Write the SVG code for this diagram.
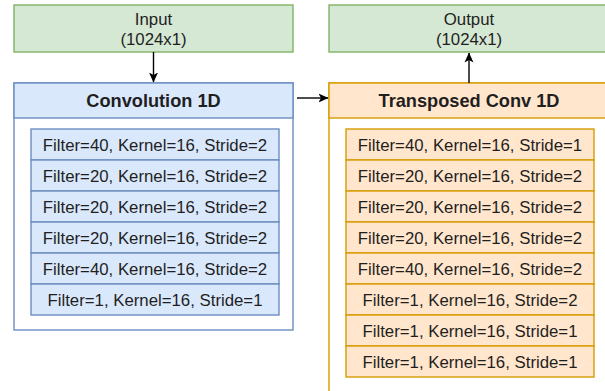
<svg xmlns="http://www.w3.org/2000/svg" width="605" height="391" viewBox="0 0 605 391">
<defs>
<style>
text{font-family:"Liberation Sans",Arial,sans-serif;fill:#1f1f1f;text-anchor:middle}
.t{font-size:16.8px}
.h{font-size:18.2px;font-weight:bold}
.io{fill:#d5e8d4;stroke:#82b366;stroke-width:1.4}
.bh{fill:#dae8fc;stroke:#6c8ebf;stroke-width:1.4}
.bb{fill:#ffffff;stroke:#6c8ebf;stroke-width:1.4}
.oh{fill:#ffe6cc;stroke:#d79b00;stroke-width:1.4}
.ob{fill:#ffffff;stroke:#d79b00;stroke-width:1.4}
.c{stroke:#000;stroke-width:1.4;fill:none}
</style>
<marker id="a" viewBox="0 0 10 10" refX="9.5" refY="5" markerWidth="10" markerHeight="10" markerUnits="userSpaceOnUse" orient="auto">
<path d="M0,0.5 L10,5 L0,9.5 L2.5,5 Z" fill="#000"/>
</marker>
</defs>
<g id="input">
<rect class="io" x="14" y="5" width="279" height="47"/>
<text class="t" x="153.5" y="24.5">Input</text>
<text class="t" x="153.5" y="44.5">(1024x1)</text>
</g>
<g id="output">
<rect class="io" x="329" y="5" width="281" height="47"/>
<text class="t" x="469" y="24.5">Output</text>
<text class="t" x="469" y="44.5">(1024x1)</text>
</g>
<g id="conv1d">
<rect class="bb" x="14" y="83" width="279" height="247"/>
<rect class="bh" x="14" y="83" width="279" height="35"/>
<text class="h" x="153.5" y="107">Convolution 1D</text>
<g id="conv-layers">
<rect class="bh" x="31" y="129" width="248" height="31"/>
<text class="t" x="155" y="150.5">Filter=40, Kernel=16, Stride=2</text>
<rect class="bh" x="31" y="160" width="248" height="31"/>
<text class="t" x="155" y="181.5">Filter=20, Kernel=16, Stride=2</text>
<rect class="bh" x="31" y="191" width="248" height="31"/>
<text class="t" x="155" y="212.5">Filter=20, Kernel=16, Stride=2</text>
<rect class="bh" x="31" y="222" width="248" height="31"/>
<text class="t" x="155" y="243.5">Filter=20, Kernel=16, Stride=2</text>
<rect class="bh" x="31" y="253" width="248" height="31"/>
<text class="t" x="155" y="274.5">Filter=40, Kernel=16, Stride=2</text>
<rect class="bh" x="31" y="284" width="248" height="31"/>
<text class="t" x="155" y="305.5">Filter=1, Kernel=16, Stride=1</text>
</g>
</g>
<g id="tconv1d">
<rect class="ob" x="329" y="83" width="281" height="320"/>
<rect class="oh" x="329" y="83" width="281" height="35"/>
<text class="h" x="469" y="107">Transposed Conv 1D</text>
<g id="tconv-layers">
<rect class="oh" x="346" y="129" width="248" height="31"/>
<text class="t" x="470" y="150.5">Filter=40, Kernel=16, Stride=1</text>
<rect class="oh" x="346" y="160" width="248" height="31"/>
<text class="t" x="470" y="181.5">Filter=20, Kernel=16, Stride=2</text>
<rect class="oh" x="346" y="191" width="248" height="31"/>
<text class="t" x="470" y="212.5">Filter=20, Kernel=16, Stride=2</text>
<rect class="oh" x="346" y="222" width="248" height="31"/>
<text class="t" x="470" y="243.5">Filter=20, Kernel=16, Stride=2</text>
<rect class="oh" x="346" y="253" width="248" height="31"/>
<text class="t" x="470" y="274.5">Filter=40, Kernel=16, Stride=2</text>
<rect class="oh" x="346" y="284" width="248" height="31"/>
<text class="t" x="470" y="305.5">Filter=1, Kernel=16, Stride=2</text>
<rect class="oh" x="346" y="315" width="248" height="31"/>
<text class="t" x="470" y="336.5">Filter=1, Kernel=16, Stride=1</text>
<rect class="oh" x="346" y="346" width="248" height="31"/>
<text class="t" x="470" y="367.5">Filter=1, Kernel=16, Stride=1</text>
</g>
</g>
<g id="connectors">
<line class="c" x1="153.5" y1="52" x2="153.5" y2="82" marker-end="url(#a)"/>
<line class="c" x1="297" y1="98" x2="328" y2="98" marker-end="url(#a)"/>
<line class="c" x1="469" y1="83" x2="469" y2="53" marker-end="url(#a)"/>
</g>
</svg>
